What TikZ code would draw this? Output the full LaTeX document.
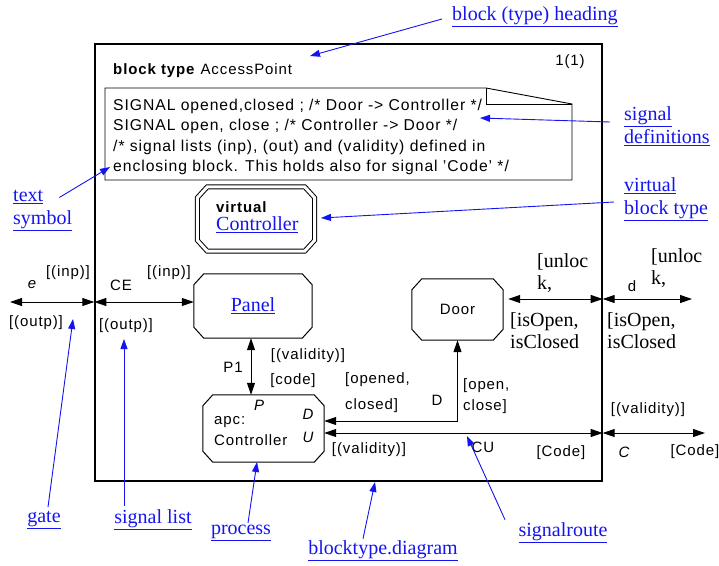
\documentclass[tikz,border=0pt]{standalone}
\usepackage{fontspec}
\setmainfont{Liberation Serif}
\setsansfont{Liberation Sans}[LetterSpace=6]
\usepackage{tikz}
\usetikzlibrary{positioning, arrows.meta}

\definecolor{sdlblue}{RGB}{20,20,240}
\newcommand{\lnk}[1]{\textcolor{sdlblue}{\underline{#1}}}
% octagon outline round a named node
\newcommand{\octof}[2][]{%
  \draw[line width=1pt, #1] ([xshift=10pt]#2.north west) -- ([xshift=-10pt]#2.north east)
    -- ([yshift=-11pt]#2.north east) -- ([yshift=11pt]#2.south east)
    -- ([xshift=-10pt]#2.south east) -- ([xshift=10pt]#2.south west)
    -- ([yshift=11pt]#2.south west) -- ([yshift=-11pt]#2.north west) -- cycle;}

\tikzset{
  sdlbox/.style={rectangle, inner sep=0pt},
  route/.style={line width=1pt,
    {Triangle[length=12pt,width=8pt]}-{Triangle[length=12pt,width=8pt]}},
  note/.style={draw=sdlblue, line width=0.9pt, -{Triangle[length=10pt,width=7pt]}},
  link/.style={font=\rmfamily\fontsize{20}{23}\selectfont, align=left, inner sep=0pt},
  serifl/.style={font=\rmfamily\fontsize{20}{22}\selectfont, align=left, inner sep=0pt},
}

\begin{document}
\begin{tikzpicture}[x=1pt, y=-1pt, font=\sffamily\fontsize{15}{20}\selectfont,
  every node/.append style={inner sep=0pt}]
\useasboundingbox (0,0) rectangle (719,565);

% Block frame and heading
\node[draw, line width=1.4pt, minimum width=507pt, minimum height=437pt] (blk) at (348.5,262.5) {};
\node[anchor=base west] (head) at (113,74) {\textbf{block type} AccessPoint};
\node (page) at (570,62) {1(1)};

% Text symbol with folded corner
\draw[line width=0.9pt] (105,88) -- (486,88) -- (572,104) -- (572,180) -- (105,180) -- cycle;
\draw[line width=0.9pt] (486,88) -- (486,104) -- (572,104);
\node[anchor=north west, align=left, font=\sffamily\fontsize{15.7}{20.3}\selectfont] (sigtxt) at (113,99)
  {SIGNAL opened,closed ; /* Door -> Controller */\\
   SIGNAL open, close ; /* Controller -> Door */\\
   /* signal lists (inp), (out) and (validity) defined in\\
   enclosing block. This holds also for signal 'Code' */};

% Virtual block type and processes
\node[sdlbox, minimum width=117pt, minimum height=64pt] (virt) at (256,219) {};
\octof[double, double distance=3pt]{virt}
\node[anchor=west, align=left] (virtxt) at (216,217)
  {\textbf{virtual}\\[-2pt]{\rmfamily\fontsize{20}{22}\selectfont\lnk{Controller}}};
\node[sdlbox, minimum width=118pt, minimum height=64pt, font=\rmfamily\fontsize{20}{22}\selectfont] (panel) at (253,306) {\lnk{Panel}};
\octof{panel}
\node[sdlbox, minimum width=91pt, minimum height=61pt] (door) at (457.5,309.5) {Door};
\octof{door}
\node[sdlbox, minimum width=121pt, minimum height=67pt] (ctrl) at (263.5,428.5) {};
\octof{ctrl}
\node[anchor=west, align=left, font=\sffamily\fontsize{15}{21}\selectfont] (ctrltxt) at (214,431) {apc:\\Controller};
\node (pP) at (259,405) {\itshape P};
\node (pD) at (308,414) {\itshape D};
\node (pU) at (308,437) {\itshape U};

% Gates and signal routes
\coordinate (eTip) at (10,302);
\coordinate (dTip) at (692,299);
\coordinate (cTip) at (705,433);
\coordinate (p1x) at (251,0);
\coordinate (dY) at (0,421);
\path ([xshift=5pt]door.east) coordinate (doorR);
\draw[route] (eTip) -- (blk.west |- eTip);
\draw[route] (blk.west |- eTip) -- (panel.west |- eTip);
\draw[route] (panel.south -| p1x) -- (ctrl.north -| p1x);
\draw[route] (ctrl.east |- dY) -| (door.south);
\draw[route] (ctrl.east |- cTip) -- (blk.east |- cTip);
\draw[route] (blk.east |- cTip) -- (cTip);
\draw[route] (doorR |- dTip) -- (blk.east |- dTip);
\draw[route] (blk.east |- dTip) -- (dTip);

% Route and gate labels
\node (eName) at (32,285) {\itshape e};
\node (eIn) at (68,273) {[(inp)]};
\node (eOut) at (36,323) {[(outp)]};
\node (ceName) at (121,285) {CE};
\node (ceIn) at (169,273) {[(inp)]};
\node (ceOut) at (126,326) {[(outp)]};
\node (p1Name) at (233,367) {P1};
\node (p1Val) at (308,356) {[(validity)]};
\node (p1Code) at (293,381) {[code]};
\node[anchor=west, align=left, font=\sffamily\fontsize{15}{26}\selectfont] (dIn) at (345,393) {[opened,\\closed]};
\node (dName) at (437,400) {D};
\node[anchor=west, align=left, font=\sffamily\fontsize{15}{21}\selectfont] (dOut) at (463,396) {[open,\\close]};
\node (cuVal) at (369,450) {[(validity)]};
\node (cuName) at (483,447) {CU};
\node (cuCode) at (561,453) {[Code]};
\node[serifl, anchor=west] (dlUn) at (537,273) {[unloc\\k,};
\node[serifl, anchor=west] (dlIs) at (510,331) {[isOpen,\\isClosed};
\node (dgName) at (632,286) {d};
\node[serifl, anchor=west] (dgUn) at (651,268) {[unloc\\k,};
\node[serifl, anchor=west] (dgIs) at (607,331) {[isOpen,\\isClosed};
\node (cVal) at (648,410) {[(validity)]};
\node (cName) at (624,452) {\itshape C};
\node (cCode) at (695,452) {[Code]};

% Explanations
\node[link, anchor=west] (lhead) at (452,17) {\lnk{block (type) heading}};
\node[link, anchor=west] (lsig) at (624,126) {\lnk{signal}\\\lnk{definitions}};
\node[link, anchor=west] (lvirt) at (624,199) {\lnk{virtual}\\\lnk{block type}};
\node[link, anchor=west] (ltext) at (13,211) {\lnk{text}\\\lnk{symbol}};
\node[link] (lgate) at (44,520) {\lnk{gate}};
\node[link] (lsl) at (153,520) {\lnk{signal list}};
\node[link] (lproc) at (241,533) {\lnk{process}};
\node[link] (ldiag) at (383,551) {\lnk{blocktype.diagram}};
\node[link] (lroute) at (563,533) {\lnk{signalroute}};

\coordinate (aHead) at (310,56);
\coordinate (aSig) at (480,118);
\coordinate (aVirt) at (321,218);
\coordinate (aText) at (110,167);
\coordinate (aGate) at (73,319);
\coordinate (aSl) at (124,339);
\coordinate (aProc) at (257,462);
\coordinate (aDiag) at (375,482);
\coordinate (aRoute) at (467,436);
\draw[note] ([shift={(-10pt,-2pt)}]lhead.west) -- (aHead);
\draw[note] ([shift={(-14pt,4pt)}]lsig.west) -- (aSig);
\draw[note] ([shift={(-10pt,-3pt)}]lvirt.west) -- (aVirt);
\draw[note] ([shift={(-13pt,-7pt)}]ltext.north east) -- (aText);
\draw[note] ([xshift=4pt,yshift=4pt]lgate.north) -- (aGate);
\draw[note] ([xshift=-29pt,yshift=4pt]lsl.north) -- (aSl);
\draw[note] ([xshift=7pt,yshift=2pt]lproc.north) -- (aProc);
\draw[note] ([xshift=-20pt,yshift=2pt]ldiag.north) -- (aDiag);
\draw[note] ([xshift=-58pt,yshift=3pt]lroute.north) -- (aRoute);
\end{tikzpicture}
\end{document}
